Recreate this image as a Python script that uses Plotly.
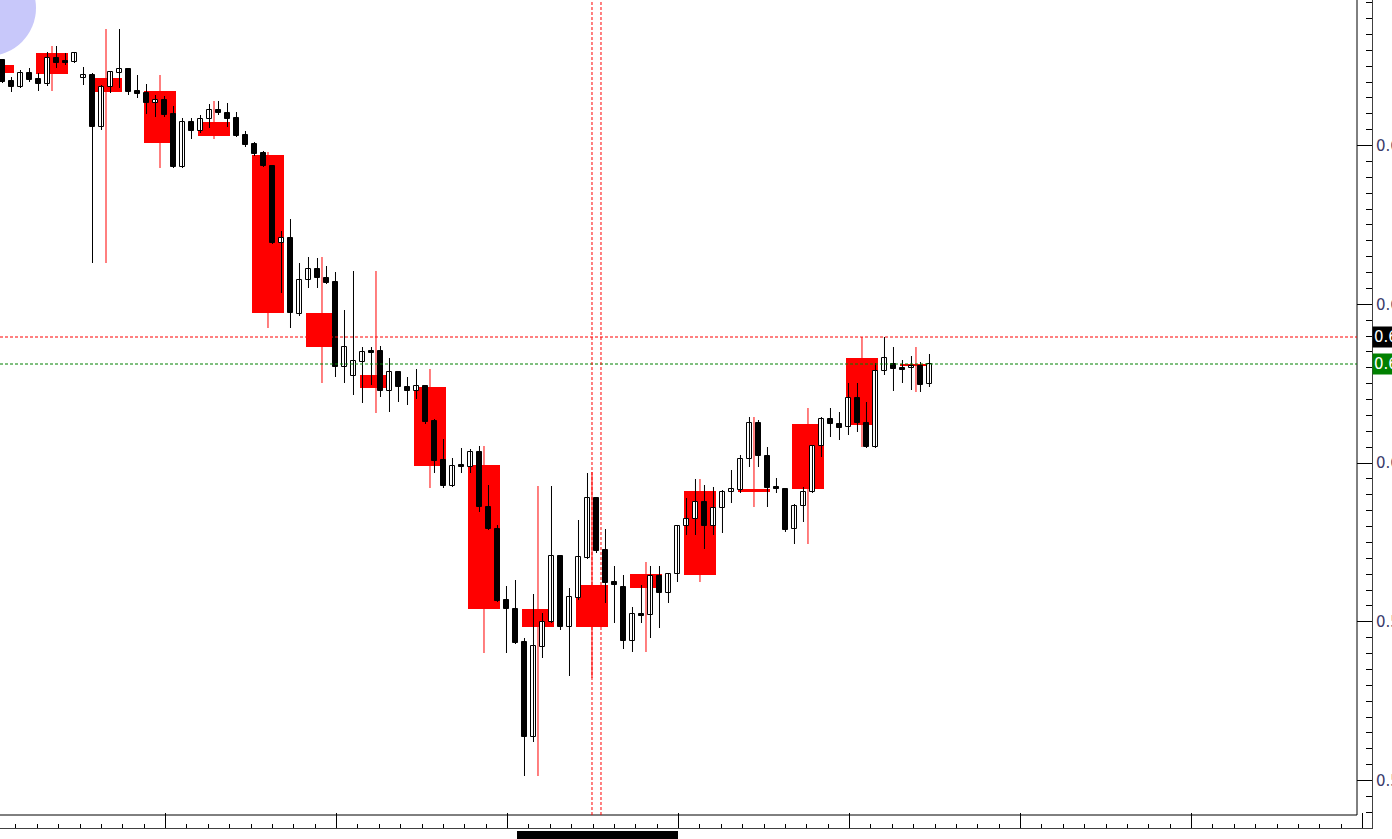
import plotly.graph_objects as go

# ---------------- small (M5) candles, price values ----------------
opens = [0.60403, 0.60382, 0.60376, 0.60390, 0.60384, 0.60379, 0.60405, 0.60402, 0.60401, 0.60385,
         0.60388, 0.60336, 0.60376, 0.60390, 0.60394, 0.60372, 0.60370, 0.60360, 0.60363, 0.60349,
         0.60296, 0.60341, 0.60332, 0.60344, 0.60353, 0.60350, 0.60345, 0.60328, 0.60319, 0.60310,
         0.60297, 0.60220, 0.60225, 0.60149, 0.60183, 0.60194, 0.60185, 0.60181, 0.60096, 0.60087,
         0.60101, 0.60112, 0.60112, 0.60072, 0.60091, 0.60076, 0.60072, 0.60077, 0.60042, 0.60003,
         0.59977, 0.59998, 0.59996, 0.60011, 0.59956, 0.59934, 0.59863, 0.59854, 0.59821, 0.59726,
         0.59816, 0.59841, 0.59907, 0.59836, 0.59865, 0.59905, 0.59965, 0.59913, 0.59881, 0.59876,
         0.59822, 0.59849, 0.59848, 0.59887, 0.59870, 0.59889, 0.59937, 0.59944, 0.59961, 0.59937,
         0.59955, 0.59971, 0.59973, 0.60004, 0.60040, 0.60007, 0.59976, 0.59974, 0.59934, 0.59957,
         0.59971, 0.60017, 0.60044, 0.60039, 0.60036, 0.60065, 0.60040, 0.60016, 0.60092, 0.60099,
         0.60095, 0.60095, 0.60097, 0.60079]
highs = [0.60404, 0.60386, 0.60393, 0.60395, 0.60390, 0.60411, 0.60417, 0.60410, 0.60411, 0.60396,
         0.60390, 0.60378, 0.60392, 0.60434, 0.60395, 0.60388, 0.60379, 0.60368, 0.60367, 0.60357,
         0.60345, 0.60345, 0.60348, 0.60359, 0.60362, 0.60360, 0.60351, 0.60332, 0.60321, 0.60312,
         0.60298, 0.60232, 0.60244, 0.60200, 0.60206, 0.60205, 0.60197, 0.60191, 0.60153, 0.60192,
         0.60116, 0.60116, 0.60117, 0.60105, 0.60092, 0.60086, 0.60094, 0.60078, 0.60044, 0.60024,
         0.60005, 0.60015, 0.60014, 0.60017, 0.59978, 0.59938, 0.59877, 0.59883, 0.59825, 0.59869,
         0.59850, 0.59977, 0.59908, 0.59875, 0.59943, 0.59990, 0.59966, 0.59934, 0.59897, 0.59888,
         0.59856, 0.59878, 0.59897, 0.59897, 0.59890, 0.59938, 0.59965, 0.59984, 0.59978, 0.59976,
         0.59973, 0.59993, 0.60008, 0.60046, 0.60043, 0.60016, 0.59985, 0.59975, 0.59959, 0.59976,
         0.60018, 0.60046, 0.60055, 0.60051, 0.60080, 0.60080, 0.60061, 0.60100, 0.60126, 0.60116,
         0.60103, 0.60107, 0.60101, 0.60109]
lows = [0.60380, 0.60371, 0.60375, 0.60381, 0.60372, 0.60377, 0.60395, 0.60398, 0.60400, 0.60378,
        0.60200, 0.60333, 0.60370, 0.60375, 0.60368, 0.60365, 0.60349, 0.60346, 0.60346, 0.60295,
        0.60295, 0.60324, 0.60330, 0.60335, 0.60348, 0.60336, 0.60326, 0.60316, 0.60307, 0.60296,
        0.60219, 0.60170, 0.60135, 0.60147, 0.60175, 0.60175, 0.60179, 0.60086, 0.60080, 0.60068,
        0.60060, 0.60078, 0.60066, 0.60051, 0.60061, 0.60058, 0.60064, 0.60039, 0.59990, 0.59975,
        0.59976, 0.59990, 0.59990, 0.59951, 0.59933, 0.59861, 0.59810, 0.59819, 0.59687, 0.59721,
        0.59805, 0.59840, 0.59833, 0.59787, 0.59863, 0.59904, 0.59910, 0.59860, 0.59840, 0.59814,
        0.59811, 0.59840, 0.59825, 0.59835, 0.59860, 0.59881, 0.59928, 0.59928, 0.59914, 0.59928,
        0.59930, 0.59960, 0.59970, 0.59996, 0.59996, 0.59956, 0.59970, 0.59931, 0.59919, 0.59941,
        0.59970, 0.60006, 0.60026, 0.60023, 0.60028, 0.60031, 0.60015, 0.60015, 0.60088, 0.60072,
        0.60080, 0.60073, 0.60071, 0.60076]
closes = [0.60381, 0.60376, 0.60390, 0.60383, 0.60379, 0.60405, 0.60400, 0.60400, 0.60410, 0.60388,
          0.60336, 0.60376, 0.60391, 0.60394, 0.60371, 0.60369, 0.60360, 0.60363, 0.60348, 0.60296,
          0.60341, 0.60332, 0.60344, 0.60353, 0.60350, 0.60344, 0.60327, 0.60318, 0.60309, 0.60297,
          0.60220, 0.60225, 0.60150, 0.60183, 0.60194, 0.60185, 0.60180, 0.60096, 0.60116, 0.60102,
          0.60111, 0.60110, 0.60072, 0.60091, 0.60076, 0.60072, 0.60077, 0.60041, 0.60002, 0.59977,
          0.59997, 0.59996, 0.60011, 0.59956, 0.59934, 0.59862, 0.59854, 0.59820, 0.59726, 0.59817,
          0.59841, 0.59907, 0.59836, 0.59866, 0.59906, 0.59965, 0.59912, 0.59880, 0.59878, 0.59822,
          0.59849, 0.59847, 0.59887, 0.59870, 0.59889, 0.59937, 0.59944, 0.59961, 0.59937, 0.59955,
          0.59971, 0.59974, 0.60004, 0.60040, 0.60007, 0.59975, 0.59974, 0.59933, 0.59957, 0.59971,
          0.60017, 0.60044, 0.60039, 0.60035, 0.60065, 0.60040, 0.60016, 0.60092, 0.60105, 0.60094,
          0.60093, 0.60097, 0.60078, 0.60099]

# ---------------- higher-timeframe (6 bars each) candles drawn in red ----------------
big_open = [0.60390, 0.60389, 0.60385, 0.60372, 0.60341, 0.60308, 0.60150, 0.60088, 0.60076,
            0.59998, 0.59854, 0.59836, 0.59875, 0.59888, 0.59971, 0.59974, 0.60038, 0.60097]
big_high = [0.60404, 0.60417, 0.60434, 0.60388, 0.60362, 0.60311, 0.60206, 0.60192, 0.60094,
            0.60017, 0.59977, 0.59991, 0.59901, 0.59984, 0.60046, 0.60055, 0.60126, 0.60116]
big_low = [0.60371, 0.60372, 0.60200, 0.60295, 0.60324, 0.60135, 0.60080, 0.60050, 0.59975,
           0.59810, 0.59687, 0.59785, 0.59811, 0.59881, 0.59956, 0.59919, 0.60016, 0.60071]
big_close = [0.60398, 0.60410, 0.60371, 0.60320, 0.60327, 0.60150, 0.60116, 0.60075, 0.59997,
             0.59854, 0.59836, 0.59878, 0.59889, 0.59972, 0.59974, 0.60039, 0.60105, 0.60099]

high_line = 0.60126   # red dashed line (black label)
bid_line = 0.60099    # green dashed line (green label)
vlines = [65.5, 66.5]  # red dashed vertical lines (bar index)

# bar index positions (time axis)
t = list(range(len(opens)))
big_t = [-0.5 + 6 * j for j in range(len(big_open))]

fig = go.Figure()

# big candle bodies
fig.add_trace(go.Bar(
    x=big_t, base=[min(o, c) for o, c in zip(big_open, big_close)],
    y=[abs(c - o) for o, c in zip(big_open, big_close)],
    width=3.6, marker=dict(color="#ff0000", line=dict(width=0)), hoverinfo="skip"))
# big candle wicks
wx, wy = [], []
for x, h, l in zip(big_t, big_high, big_low):
    wx += [x, x, None]
    wy += [h, l, None]
fig.add_trace(go.Scatter(x=wx, y=wy, mode="lines", line=dict(color="#ff0000", width=1), hoverinfo="skip"))

# small candle wicks
sx, sy = [], []
for x, h, l in zip(t, highs, lows):
    sx += [x, x, None]
    sy += [h, l, None]
fig.add_trace(go.Scatter(x=sx, y=sy, mode="lines", line=dict(color="#000000", width=1), hoverinfo="skip"))

# small candle bodies
bull = [i for i in t if closes[i] >= opens[i]]
bear = [i for i in t if closes[i] < opens[i]]
fig.add_trace(go.Bar(
    x=bull, base=[opens[i] for i in bull], y=[closes[i] - opens[i] for i in bull], width=0.6,
    marker=dict(color="#ffffff", line=dict(color="#000000", width=1)), hoverinfo="skip"))
fig.add_trace(go.Bar(
    x=bear, base=[closes[i] for i in bear], y=[opens[i] - closes[i] for i in bear], width=0.6,
    marker=dict(color="#000000", line=dict(color="#000000", width=1)), hoverinfo="skip"))

W, H = 1392, 839
ml, mr, mt, mb = 0, 20, 0, 11
pw, ph = W - ml - mr, H - mt - mb   # 1372 x 828
inner_x = 1357 / pw
inner_y = (ph - 815) / ph

xr = [-0.2778, 152.17]
yr = [0.59635, 0.60463]

shapes = [
    # lavender circle at top-left
    dict(type="circle", xref="paper", yref="paper", x0=-60 / pw, x1=36 / pw,
         y0=1 - 56 / ph, y1=1 + 40 / ph, fillcolor="#c8c8fa", line=dict(width=0), layer="below"),
    # inner frame
    dict(type="line", xref="paper", yref="paper", x0=inner_x, x1=inner_x, y0=inner_y, y1=1,
         line=dict(color="#000000", width=1)),
    dict(type="line", xref="paper", yref="paper", x0=0, x1=inner_x, y0=inner_y, y1=inner_y,
         line=dict(color="#000000", width=1)),
    # horizontal price lines
    dict(type="line", xref="paper", yref="y", x0=0, x1=inner_x, y0=high_line, y1=high_line,
         line=dict(color="#ff0000", width=1, dash="3px,2px")),
    dict(type="line", xref="paper", yref="y", x0=0, x1=inner_x, y0=bid_line, y1=bid_line,
         line=dict(color="#008000", width=1, dash="3px,2px")),
    # scrollbar block below the time axis
    dict(type="rect", xref="paper", yref="paper", x0=517 / pw, x1=678 / pw,
         y0=-(839 - 828) / ph, y1=-(831 - 828) / ph, fillcolor="#000000", line=dict(width=0)),
]
for v in vlines:
    shapes.append(dict(type="line", xref="x", yref="paper", x0=v, x1=v, y0=inner_y, y1=1,
                       line=dict(color="#ff0000", width=1, dash="3px,2px")))

annotations = [
    dict(xref="paper", yref="y", x=1, y=high_line, xanchor="left", yanchor="middle",
         text=f"{high_line:.5f}", showarrow=False, bgcolor="#000000",
         font=dict(color="#ffffff", size=15, family="DejaVu Sans"), borderpad=1),
    dict(xref="paper", yref="y", x=1, y=bid_line, xanchor="left", yanchor="middle",
         text=f"{bid_line:.5f}", showarrow=False, bgcolor="#008000",
         font=dict(color="#ffffff", size=15, family="DejaVu Sans"), borderpad=1),
]

fig.update_layout(
    width=W, height=H, autosize=False,
    margin=dict(l=ml, r=mr, t=mt, b=mb, pad=0, autoexpand=False),
    paper_bgcolor="#ffffff", plot_bgcolor="#ffffff",
    showlegend=False, barmode="overlay", bargap=0,
    shapes=shapes, annotations=annotations,
    xaxis=dict(range=xr, domain=[0, 1], showgrid=False, zeroline=False, automargin=False,
               showline=True, linecolor="#404040", linewidth=1,
               ticks="inside", tickmode="linear", tick0=18.12, dtick=19, ticklen=15,
               tickcolor="#000000", tickwidth=1, showticklabels=False,
               minor=dict(ticks="inside", tick0=18.12, dtick=2.375, ticklen=4,
                          tickcolor="#000000", tickwidth=1, showgrid=False)),
    xaxis2=dict(range=xr, overlaying="x", anchor="y", side="bottom", showgrid=False,
                zeroline=False, showline=False, ticks="inside", tickmode="linear",
                tick0=18.12, dtick=4.75, ticklen=7, tickcolor="#000000", tickwidth=1,
                showticklabels=False, automargin=False),
    yaxis=dict(range=yr, domain=[0, 1], side="right", showgrid=False, zeroline=False,
               automargin=False,
               showline=True, linecolor="#404040", linewidth=1,
               ticks="inside", tickmode="linear", tick0=0.6, dtick=0.0015875, ticklen=15,
               tickcolor="#000000", tickwidth=1, tickformat=".5f",
               tickfont=dict(color="#3a3a6a", size=15, family="DejaVu Sans"),
               minor=dict(ticks="inside", tick0=0.6, dtick=0.00015875, ticklen=6,
                          tickcolor="#000000", tickwidth=1, showgrid=False)),
)

fig.write_html("out.html", config={"displayModeBar": False})
